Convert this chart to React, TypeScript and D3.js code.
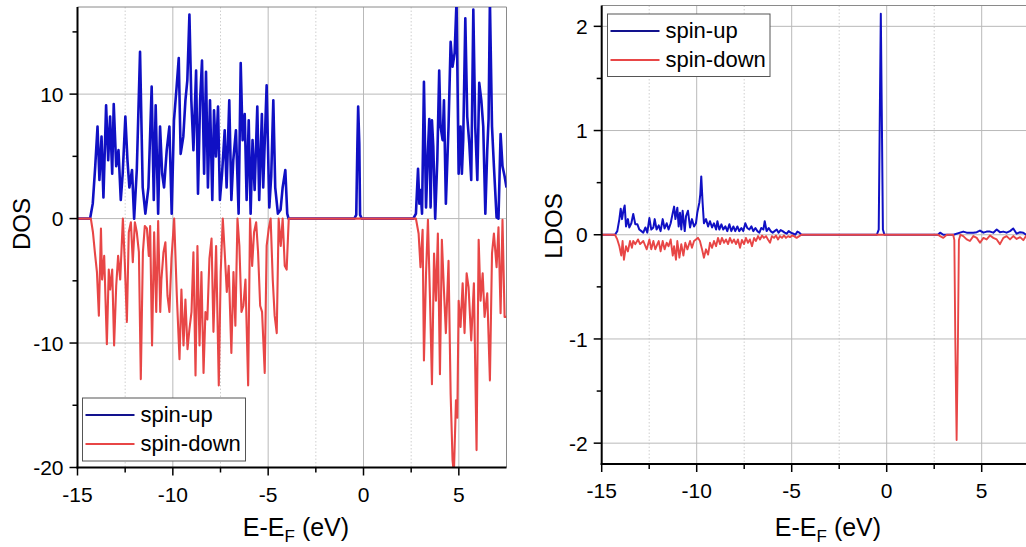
import React from "react";
import * as d3 from "d3";

// ---------- DATA ----------
const xTicks = [-15, -10, -5, 0, 5];
const xMinorTicks = [-12.5, -7.5, -2.5, 2.5];
const dosTicks = [-20, -10, 0, 10];
const dosMinorTicks = [-15, -5, 5, 15];
const ldosTicks = [-2, -1, 0, 1, 2];
const ldosMinorTicks = [-1.5, -0.5, 0.5, 1.5];
const legendLabels = ["spin-up", "spin-down"];

// Total DOS, spin-up  [E-EF (eV), DOS]
const dosUp: [number, number][] = [
  [-15, 0], [-14.34, 0], [-14.2, 1.2], [-14.07, 4.2], [-13.95, 7.4], [-13.85, 3.1], [-13.74, 6.6], [-13.64, 1.7],
  [-13.5, 9.1], [-13.39, 4.7], [-13.29, 8.2], [-13.18, 3.6], [-13.1, 9.2], [-12.97, 4.2], [-12.85, 5.5],
  [-12.73, 1.5], [-12.63, 3.6], [-12.49, 8.2], [-12.38, 4.7], [-12.28, 2.5], [-12.14, 3.9], [-12.03, 0],
  [-11.89, 3.9], [-11.72, 13.4], [-11.58, 2.5], [-11.44, 0.4], [-11.28, 2.5], [-11.11, 10.6], [-11.0, 1.5],
  [-10.9, 9.1], [-10.77, 0.4], [-10.67, 7.4], [-10.56, 3.6], [-10.46, 2.5], [-10.32, 5.5], [-10.18, 7.4],
  [-10.06, 0.4], [-9.94, 7.9], [-9.8, 10.6], [-9.69, 12.9], [-9.59, 5.2], [-9.45, 6.6], [-9.34, 9.5],
  [-9.24, 11.1], [-9.13, 16.4], [-9.03, 9.5], [-8.92, 5.5], [-8.78, 11.9], [-8.68, 2.0], [-8.57, 9.5],
  [-8.47, 12.7], [-8.36, 3.6], [-8.26, 11.8], [-8.16, 2.5], [-8.05, 9.5], [-7.93, 1.5], [-7.84, 8.7],
  [-7.74, 5.0], [-7.63, 9.0], [-7.53, 1.5], [-7.42, 3.6], [-7.28, 7.1], [-7.18, 2.5], [-7.04, 9.5],
  [-6.93, 1.5], [-6.83, 4.7], [-6.69, 7.1], [-6.55, 0.4], [-6.44, 12.5], [-6.34, 6.3], [-6.23, 8.4],
  [-6.13, 1.5], [-6.02, 7.9], [-5.92, 0.4], [-5.82, 6.3], [-5.71, 2.3], [-5.57, 9.0], [-5.47, 1.5],
  [-5.33, 8.4], [-5.26, 2.5], [-5.08, 10.7], [-4.94, 0.9], [-4.84, 3.4], [-4.73, 9.5], [-4.63, 2.5],
  [-4.49, 0.4], [-4.35, 0.7], [-4.24, 2.5], [-4.1, 3.9], [-4.0, 0.4], [-3.93, 0],
  [-0.48, 0], [-0.38, 0.3], [-0.32, 6.0], [-0.28, 9.0], [-0.22, 6.0], [-0.18, 0.3], [-0.1, 0],
  [2.61, 0], [2.75, 0.4], [2.86, 4.0], [2.93, 1.2], [2.99, 2.3], [3.07, 0.4], [3.17, 11.0], [3.28, 0.9],
  [3.38, 5.5], [3.45, 8.0], [3.52, 0.9], [3.59, 7.9], [3.66, 5.8], [3.76, 0], [3.87, 4.7], [3.97, 11.9],
  [4.04, 7.4], [4.15, 6.3], [4.22, 9.5], [4.32, 1.2], [4.46, 7.4], [4.57, 14.2], [4.67, 12.2], [4.78, 13.3],
  [4.88, 17.5], [4.99, 3.6], [5.09, 7.4], [5.16, 3.6], [5.23, 6.3], [5.34, 16.1], [5.44, 8.2], [5.55, 6.0],
  [5.65, 3.1], [5.76, 16.8], [5.86, 7.4], [5.97, 3.1], [6.07, 10.9], [6.18, 9.5], [6.28, 7.4], [6.39, 0.4],
  [6.49, 5.5], [6.56, 8.0], [6.63, 17.5], [6.74, 7.4], [6.84, 4.2], [6.98, 0.1], [7.08, 0], [7.19, 6.8],
  [7.29, 4.2], [7.4, 3.4], [7.5, 2.5],
];

// Total DOS, spin-down  [E-EF (eV), DOS]
const dosDown: [number, number][] = [
  [-15, 0], [-14.3, 0], [-14.19, -1.1], [-14.09, -2.7], [-13.98, -4.3], [-13.88, -7.8], [-13.77, -0.8],
  [-13.71, -4.9], [-13.6, -3.0], [-13.46, -10.1], [-13.36, -4.1], [-13.29, -5.7], [-13.18, -4.1],
  [-13.08, -10.2], [-12.97, -5.4], [-12.87, -3.0], [-12.76, -4.9], [-12.62, 0], [-12.52, -3.5],
  [-12.41, -8.3], [-12.31, -1.1], [-12.2, -0.3], [-12.1, -3.5], [-11.99, -0.3], [-11.89, -1.1],
  [-11.78, -2.7], [-11.68, -12.9], [-11.57, -2.7], [-11.47, -0.6], [-11.36, -0.8], [-11.26, -3.0],
  [-11.19, -0.6], [-11.09, -10.2], [-10.98, -1.1], [-10.87, -7.5], [-10.77, -0.2], [-10.66, -7.5],
  [-10.6, -4.9], [-10.49, -2.7], [-10.39, -1.9], [-10.28, -6.2], [-10.18, -7.5], [-10.07, -3.2],
  [-9.93, 0], [-9.79, -6.2], [-9.65, -11.3], [-9.55, -5.7], [-9.44, -10.2], [-9.34, -6.5], [-9.23, -10.5],
  [-9.13, -8.9], [-9.02, -7.5], [-8.92, -2.7], [-8.81, -12.6], [-8.71, -2.2], [-8.6, -10.2], [-8.5, -4.3],
  [-8.39, -12.4], [-8.29, -7.5], [-8.19, -8.1], [-8.08, -3.2], [-7.97, -1.6], [-7.87, -9.1], [-7.73, -2.2],
  [-7.59, -13.4], [-7.49, -4.3], [-7.38, 0], [-7.28, -2.7], [-7.17, -5.9], [-7.07, -3.8], [-6.93, -10.8],
  [-6.82, -4.3], [-6.72, -8.6], [-6.61, 0], [-6.51, -2.2], [-6.4, -7.5], [-6.3, -7.0], [-6.19, -4.9],
  [-6.05, -13.4], [-5.95, 0], [-5.84, -3.8], [-5.74, -1.1], [-5.63, -0.3], [-5.53, -2.7], [-5.42, -7.0],
  [-5.32, -7.5], [-5.18, -12.4], [-5.08, -2.2], [-4.97, -0.8], [-4.87, 0], [-4.76, -4.9], [-4.66, -7.8],
  [-4.55, -9.2], [-4.45, 0], [-4.34, -2.2], [-4.24, 0], [-4.13, -3.8], [-4.03, -4.1], [-3.92, 0],
  [2.75, 0], [2.89, -1.2], [2.99, -3.9], [3.1, -0.9], [3.17, -11.4], [3.28, -4.4], [3.38, -0.1], [3.49, -6.6],
  [3.59, -13.3], [3.7, -2.8], [3.8, -6.6], [3.9, -1.2], [4.01, -12.5], [4.11, -1.7], [4.22, -5.8],
  [4.32, -9.2], [4.46, -3.4], [4.57, -14.1], [4.67, -19.4], [4.74, -20.5], [4.85, -14.6], [4.92, -16.0],
  [4.99, -6.6], [5.09, -8.7], [5.2, -5.2], [5.3, -9.2], [5.41, -4.4], [5.51, -5.5], [5.65, -9.8],
  [5.79, -5.2], [5.93, -18.6], [6.04, -1.7], [6.14, -6.6], [6.25, -4.4], [6.35, -7.9], [6.49, -6.0],
  [6.63, -13.0], [6.74, -2.8], [6.84, -1.2], [6.98, -3.9], [7.08, -0.7], [7.19, -7.6], [7.29, -0.1],
  [7.4, -7.9], [7.5, -7.9],
];

// Local DOS, spin-up  [E-EF (eV), LDOS]
const ldosUp: [number, number][] = [
  [-15, 0], [-14.3, 0], [-14.18, 0.035], [-14.07, 0.15], [-14.0, 0.25], [-13.93, 0.15], [-13.86, 0.23],
  [-13.79, 0.28], [-13.72, 0.08], [-13.62, 0.15], [-13.55, 0.07], [-13.44, 0.11], [-13.34, 0.2],
  [-13.23, 0.1], [-13.12, 0.1], [-13.02, 0.05], [-12.91, 0.035], [-12.81, 0.02], [-12.7, 0.07],
  [-12.6, 0.02], [-12.49, 0.16], [-12.39, 0.05], [-12.28, 0.07], [-12.21, 0.15], [-12.11, 0.05],
  [-12.0, 0.09], [-11.9, 0.035], [-11.79, 0.15], [-11.69, 0.06], [-11.58, 0.11], [-11.48, 0.05],
  [-11.37, 0.11], [-11.26, 0.21], [-11.19, 0.27], [-11.12, 0.15], [-11.02, 0.26], [-10.95, 0.08],
  [-10.88, 0.21], [-10.81, 0.05], [-10.74, 0.23], [-10.63, 0.035], [-10.56, 0.18], [-10.46, 0.23],
  [-10.35, 0.07], [-10.25, 0.15], [-10.14, 0.08], [-10.04, 0.11], [-9.97, 0.21], [-9.86, 0.31],
  [-9.81, 0.39], [-9.76, 0.56], [-9.69, 0.31], [-9.62, 0.11], [-9.51, 0.15], [-9.4, 0.08], [-9.3, 0.13],
  [-9.19, 0.07], [-9.09, 0.11], [-8.98, 0.05], [-8.91, 0.13], [-8.81, 0.05], [-8.7, 0.1], [-8.6, 0.05],
  [-8.49, 0.08], [-8.39, 0.035], [-8.28, 0.1], [-8.18, 0.035], [-8.07, 0.08], [-7.97, 0.035],
  [-7.86, 0.08], [-7.76, 0.035], [-7.65, 0.065], [-7.55, 0.035], [-7.44, 0.11], [-7.34, 0.065],
  [-7.23, 0.05], [-7.12, 0.08], [-7.02, 0.035], [-6.91, 0.065], [-6.81, 0.035], [-6.7, 0.02],
  [-6.6, 0.065], [-6.49, 0.05], [-6.42, 0.13], [-6.32, 0.035], [-6.21, 0.065], [-6.11, 0.035],
  [-6.0, 0.02], [-5.9, 0.035], [-5.79, 0.05], [-5.69, 0.02], [-5.58, 0.045], [-5.48, 0.035],
  [-5.37, 0.02], [-5.26, 0.01], [-5.16, 0.035], [-5.05, 0.02], [-4.91, 0.01], [-4.81, 0], [-4.7, 0.03],
  [-4.6, 0.02], [-4.49, 0],
  [-0.52, 0], [-0.42, 0.05], [-0.36, 1.2], [-0.31, 2.12], [-0.26, 1.2], [-0.2, 0.05], [-0.12, 0],
  [2.7, 0], [2.81, 0.02], [2.98, 0], [3.51, 0], [4.03, 0.03], [4.21, 0.02], [4.56, 0.02], [4.74, 0.025],
  [4.91, 0.04], [5.09, 0.02], [5.26, 0.03], [5.44, 0.03], [5.61, 0.02], [5.79, 0.05], [5.96, 0.025],
  [6.14, 0.03], [6.31, 0.02], [6.49, 0.035], [6.66, 0.06], [6.84, 0.01], [7.02, 0.025], [7.19, 0.02],
  [7.33, 0], [7.5, 0.02],
];

// Local DOS, spin-down  [E-EF (eV), LDOS]
const ldosDown: [number, number][] = [
  [-15, 0], [-14.3, 0], [-14.18, -0.045], [-14.07, -0.11], [-13.97, -0.2], [-13.9, -0.06], [-13.83, -0.24],
  [-13.72, -0.11], [-13.62, -0.16], [-13.51, -0.06], [-13.41, -0.125], [-13.34, -0.06], [-13.23, -0.09],
  [-13.09, -0.045], [-12.98, -0.09], [-12.81, -0.06], [-12.63, -0.14], [-12.49, -0.045], [-12.39, -0.14],
  [-12.28, -0.06], [-12.18, -0.14], [-12.07, -0.09], [-12.0, -0.06], [-11.9, -0.16], [-11.79, -0.06],
  [-11.69, -0.14], [-11.58, -0.077], [-11.48, -0.11], [-11.37, -0.045], [-11.26, -0.2], [-11.19, -0.11],
  [-11.09, -0.24], [-11.02, -0.06], [-10.91, -0.22], [-10.81, -0.09], [-10.7, -0.2], [-10.6, -0.077],
  [-10.49, -0.14], [-10.35, -0.06], [-10.25, -0.125], [-10.14, -0.06], [-10.04, -0.045], [-9.93, -0.03],
  [-9.83, -0.06], [-9.72, -0.14], [-9.62, -0.22], [-9.51, -0.14], [-9.4, -0.19], [-9.3, -0.077],
  [-9.19, -0.125], [-9.09, -0.06], [-8.98, -0.11], [-8.88, -0.03], [-8.77, -0.09], [-8.67, -0.03],
  [-8.56, -0.077], [-8.46, -0.045], [-8.35, -0.09], [-8.25, -0.03], [-8.14, -0.077], [-8.04, -0.045],
  [-7.93, -0.09], [-7.83, -0.045], [-7.72, -0.125], [-7.62, -0.05], [-7.51, -0.09], [-7.41, -0.03],
  [-7.3, -0.077], [-7.2, -0.045], [-7.09, -0.11], [-6.98, -0.03], [-6.88, -0.06], [-6.77, -0.013],
  [-6.67, -0.045], [-6.56, -0.007], [-6.46, -0.03], [-6.35, -0.013], [-6.25, -0.045], [-6.14, -0.077],
  [-6.04, -0.013], [-5.93, -0.03], [-5.83, -0.007], [-5.72, -0.045], [-5.62, -0.013], [-5.51, -0.03],
  [-5.41, -0.007], [-5.3, -0.03], [-5.19, -0.013], [-5.09, -0.023], [-4.98, -0.007], [-4.88, -0.013],
  [-4.74, -0.03], [-4.6, -0.013], [-4.49, 0],
  [2.7, 0], [2.81, -0.013], [2.98, -0.03], [3.16, 0], [3.5, 0], [3.56, -0.05], [3.61, -1.0], [3.68, -1.97],
  [3.75, -1.0], [3.8, -0.05], [3.88, 0], [4.03, -0.013], [4.21, -0.045], [4.38, -0.06], [4.56, -0.013],
  [4.74, -0.03], [4.91, -0.077], [5.09, -0.03], [5.26, -0.045], [5.44, -0.007], [5.61, -0.03],
  [5.79, -0.045], [5.96, -0.09], [6.14, -0.03], [6.31, -0.013], [6.49, -0.045], [6.66, -0.013],
  [6.84, -0.04], [7.02, -0.023], [7.19, -0.052], [7.33, -0.013], [7.5, -0.03],
];

// ---------- STYLE ----------
const BLUE = "#1010c4";
const BLUE_LEG = "#12128e";
const RED = "#e84646";
const FONT = "'Liberation Sans', Arial, Helvetica, sans-serif";
const GRID = "#b9b9b9";

type PanelProps = {
  x0: number; x1: number; yTop: number; yBot: number;
  yDomain: [number, number];
  yMajor: number[]; yMinor: number[];
  up: [number, number][]; down: [number, number][];
  yLabel: string; yLabelX: number; yLabelY: number;
  xTitleX: number;
  legend: { x: number; y: number; w: number; h: number };
  upW: number; downW: number;
  id: string;
};

function Panel(p: PanelProps) {
  const x = d3.scaleLinear().domain([-15, 7.5]).range([p.x0, p.x1]);
  const y = d3.scaleLinear().domain(p.yDomain).range([p.yBot, p.yTop]);
  const line = d3.line<[number, number]>().x((d) => x(d[0])).y((d) => y(d[1]));
  const fmt = (v: number) => (v < 0 ? "-" + Math.abs(v) : String(v));
  const lg = p.legend;
  return (
    <g>
      <defs>
        <clipPath id={p.id}>
          <rect x={p.x0} y={p.yTop} width={p.x1 - p.x0} height={p.yBot - p.yTop} />
        </clipPath>
      </defs>
      {xMinorTicks.map((t) => (
        <line key={"vm" + t} x1={x(t)} x2={x(t)} y1={p.yTop} y2={p.yBot} stroke="#cfcfcf" strokeWidth={1} strokeDasharray="1.5,2" />
      ))}
      {xTicks.filter((t) => t !== -15).map((t) => (
        <line key={"vg" + t} x1={x(t)} x2={x(t)} y1={p.yTop} y2={p.yBot} stroke={GRID} strokeWidth={1} />
      ))}
      {p.yMajor.filter((t) => y(t) < p.yBot - 1).map((t) => (
        <line key={"hg" + t} x1={p.x0} x2={p.x1} y1={y(t)} y2={y(t)} stroke={GRID} strokeWidth={1} />
      ))}
      <line x1={p.x0} x2={p.x1} y1={p.yTop} y2={p.yTop} stroke="#8a8a8a" strokeWidth={1} />
      <line x1={p.x1} x2={p.x1} y1={p.yTop} y2={p.yBot} stroke="#8a8a8a" strokeWidth={1} />

      <g clipPath={`url(#${p.id})`}>
        <path d={line(p.up) || ""} fill="none" stroke={BLUE} strokeWidth={p.upW} strokeLinejoin="round" />
        <path d={line(p.down) || ""} fill="none" stroke={RED} strokeWidth={p.downW} strokeLinejoin="round" />
      </g>

      <line x1={p.x0} x2={p.x0} y1={p.yTop} y2={p.yBot + 1} stroke="#000" strokeWidth={2} />
      <line x1={p.x0 - 1} x2={p.x1} y1={p.yBot} y2={p.yBot} stroke="#000" strokeWidth={2} />
      {p.yMajor.map((t) => (
        <g key={"yt" + t}>
          <line x1={p.x0 - 8} x2={p.x0} y1={y(t)} y2={y(t)} stroke="#000" strokeWidth={1.5} />
          <text x={p.x0 - 14} y={y(t)} dy="0.36em" textAnchor="end" fontSize={21} fontFamily={FONT} fill="#000">{fmt(t)}</text>
        </g>
      ))}
      {p.yMinor.map((t) => (
        <line key={"ymt" + t} x1={p.x0 - 5} x2={p.x0} y1={y(t)} y2={y(t)} stroke="#000" strokeWidth={1.5} />
      ))}
      {xTicks.map((t) => (
        <g key={"xt" + t}>
          <line x1={x(t)} x2={x(t)} y1={p.yBot} y2={p.yBot + 8} stroke="#000" strokeWidth={1.5} />
          <text x={x(t)} y={p.yBot + 34} textAnchor="middle" fontSize={21} fontFamily={FONT} fill="#000">{fmt(t)}</text>
        </g>
      ))}
      {xMinorTicks.map((t) => (
        <line key={"xmt" + t} x1={x(t)} x2={x(t)} y1={p.yBot} y2={p.yBot + 5} stroke="#000" strokeWidth={1.5} />
      ))}

      <text x={p.xTitleX} y={536} textAnchor="middle" fontSize={25} fontFamily={FONT} fill="#000">
        E-E<tspan fontSize={17} dy={6}>F</tspan><tspan dy={-6}> (eV)</tspan>
      </text>
      <text transform={`translate(${p.yLabelX},${p.yLabelY}) rotate(-90)`} textAnchor="middle" fontSize={24} fontFamily={FONT} fill="#000">
        {p.yLabel}
      </text>

      <rect x={lg.x} y={lg.y} width={lg.w} height={lg.h} fill="#fff" stroke="#555" strokeWidth={1} />
      {legendLabels.map((lab, i) => {
        const ly = lg.y + 17 + i * 29;
        return (
          <g key={lab}>
            <line x1={lg.x + 3} x2={lg.x + 52} y1={ly} y2={ly} stroke={i === 0 ? BLUE_LEG : RED} strokeWidth={2.2} />
            <text x={lg.x + 58} y={ly + 7} fontSize={22} fontFamily={FONT} fill="#000">{lab}</text>
          </g>
        );
      })}
    </g>
  );
}

export default function App() {
  return (
    <svg width={1026} height={547} style={{ position: "absolute", left: 0, top: 0, background: "#fff" }}>
      <rect x={0} y={0} width={1026} height={547} fill="#fff" />
      <Panel
        id="clipL"
        x0={77.5} x1={506.5} yTop={7} yBot={467.5}
        yDomain={[-20, 17]}
        yMajor={dosTicks} yMinor={dosMinorTicks}
        up={dosUp} down={dosDown}
        yLabel="DOS" yLabelX={30} yLabelY={224}
        xTitleX={296}
        legend={{ x: 82.5, y: 398, w: 163, h: 63 }}
        upW={2.6} downW={2.1}
      />
      <Panel
        id="clipR"
        x0={601.7} x1={1029.2} yTop={5.5} yBot={464}
        yDomain={[-2.2, 2.2]}
        yMajor={ldosTicks} yMinor={ldosMinorTicks}
        up={ldosUp} down={ldosDown}
        yLabel="LDOS" yLabelX={562} yLabelY={226}
        xTitleX={828}
        legend={{ x: 607.5, y: 14, w: 162.5, h: 62.5 }}
        upW={2.0} downW={1.9}
      />
    </svg>
  );
}
